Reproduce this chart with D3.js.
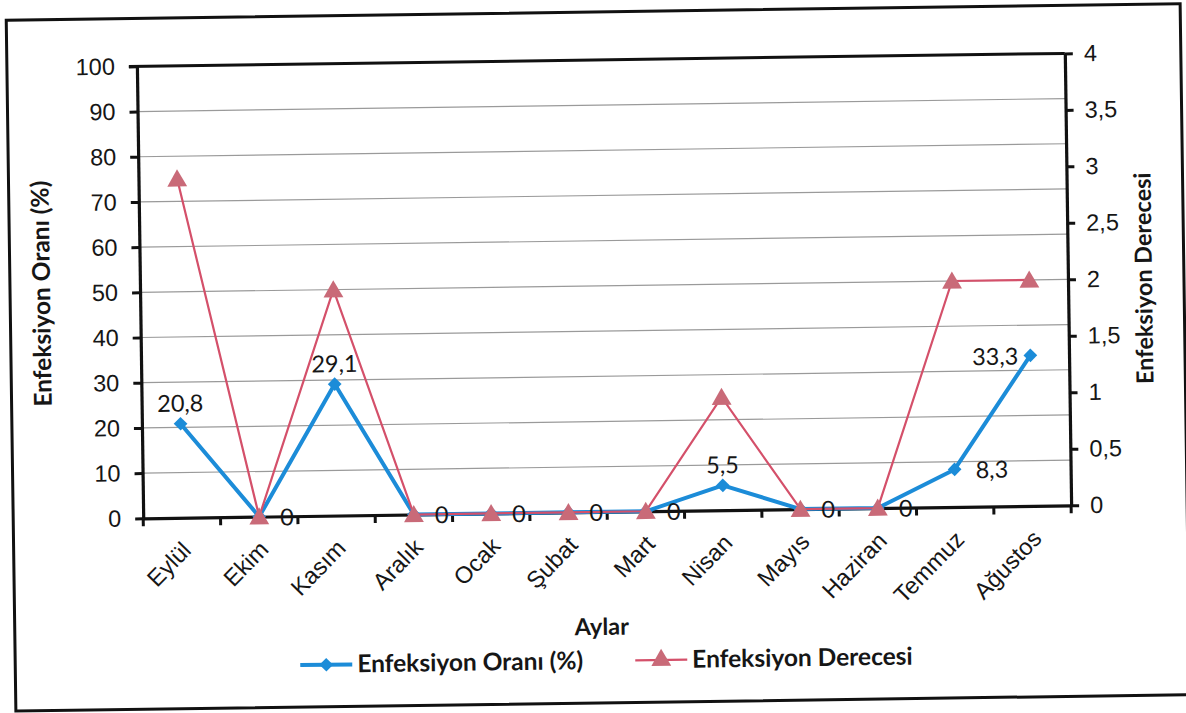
<!DOCTYPE html>
<html>
<head>
<meta charset="utf-8">
<script src="https://cdn.jsdelivr.net/npm/d3@7"></script>
<style>
  html, body { margin: 0; padding: 0; background: #fff; }
  svg { display: block; font-family: Lato, "Open Sans", sans-serif; }
</style>
</head>
<body>
<svg id="chart" width="1186" height="713"></svg>
<script>
// Monthly infection data (Eylül → Ağustos)
const months = ["Eylül", "Ekim", "Kasım", "Aralık", "Ocak", "Şubat", "Mart", "Nisan", "Mayıs", "Haziran", "Temmuz", "Ağustos"];
const infectionRate = [20.8, 0, 29.1, 0, 0, 0, 0, 5.5, 0, 0, 8.3, 33.3];   // Enfeksiyon Oranı (%)
const infectionDegree = [3, 0, 2, 0, 0, 0, 0, 1, 0, 0, 2, 2];             // Enfeksiyon Derecesi
const rateTicks = [0, 10, 20, 30, 40, 50, 60, 70, 80, 90, 100];
const degreeTicks = [0, 0.5, 1, 1.5, 2, 2.5, 3, 3.5, 4];

const BLUE = "#1c8cd8";
const RED_LINE = "#d4506a";
const RED_MARK = "#c96a78";
const INK = "#161616";
const FS = 23.5;

const svg = d3.select("#chart");
const root = svg.append("g").attr("transform", "rotate(-0.8, 593, 357)");

// outer frame
root.append("rect")
  .attr("x", 11).attr("y", 12).attr("width", 1174).attr("height", 691)
  .attr("fill", "#fff").attr("stroke", "#111").attr("stroke-width", 3);

const plot = { left: 141, right: 1069, top: 60, bottom: 512 };

const x = d3.scaleBand().domain(months).range([plot.left, plot.right]);
const yRate = d3.scaleLinear().domain([0, 100]).range([plot.bottom, plot.top]);
const yDeg = d3.scaleLinear().domain([0, 4]).range([plot.bottom, plot.top]);
const cx = m => x(m) + x.bandwidth() / 2;
const fmt = v => String(v).replace(".", ",");

// horizontal gridlines
root.append("g").selectAll("line")
  .data(rateTicks.filter(t => t > 0 && t < 100))
  .join("line")
  .attr("x1", plot.left).attr("x2", plot.right)
  .attr("y1", d => yRate(d)).attr("y2", d => yRate(d))
  .attr("stroke", "#9a9a9a").attr("stroke-width", 1.2);

// top border of the plot area
root.append("line")
  .attr("x1", plot.left - 8).attr("x2", plot.right)
  .attr("y1", plot.top).attr("y2", plot.top)
  .attr("stroke", "#111").attr("stroke-width", 3);

// left axis
const leftAxis = root.append("g")
  .attr("transform", `translate(${plot.left},0)`)
  .call(d3.axisLeft(yRate).tickValues(rateTicks).tickSize(8).tickSizeOuter(0).tickPadding(14));
// right axis
const rightAxis = root.append("g")
  .attr("transform", `translate(${plot.right},0)`)
  .call(d3.axisRight(yDeg).tickValues(degreeTicks).tickSize(8).tickSizeOuter(0).tickPadding(11).tickFormat(fmt));

[leftAxis, rightAxis].forEach(g => {
  g.select(".domain").attr("stroke", "#111").attr("stroke-width", 3.2);
  g.selectAll(".tick line").attr("stroke", "#111").attr("stroke-width", 3);
  g.selectAll(".tick text").attr("fill", INK).attr("font-size", FS);
});

// bottom axis: labels at band centres, ticks at band boundaries
const bottomAxis = root.append("g")
  .attr("transform", `translate(0,${plot.bottom})`)
  .call(d3.axisBottom(x).tickSize(0).tickSizeOuter(0));
bottomAxis.select(".domain").attr("stroke", "#111").attr("stroke-width", 3.2);
bottomAxis.selectAll(".tick text")
  .attr("font-size", FS).attr("fill", INK)
  .attr("text-anchor", "end")
  .attr("dy", null)
  .attr("transform", "translate(8,32) rotate(-45)");
bottomAxis.append("g").selectAll("line")
  .data(d3.range(months.length + 1))
  .join("line")
  .attr("x1", i => plot.left + i * x.step()).attr("x2", i => plot.left + i * x.step())
  .attr("y1", 0).attr("y2", 8)
  .attr("stroke", "#111").attr("stroke-width", 3);

// infection rate series (left axis)
const rateData = months.map((m, i) => ({ m, v: infectionRate[i], i }));
root.append("path")
  .datum(rateData)
  .attr("fill", "none").attr("stroke", BLUE).attr("stroke-width", 4).attr("stroke-linejoin", "round")
  .attr("d", d3.line().x(d => cx(d.m)).y(d => yRate(d.v)));
root.append("g").selectAll("path")
  .data(rateData)
  .join("path")
  .attr("transform", d => `translate(${cx(d.m)},${yRate(d.v)})`)
  .attr("d", d3.symbol(d3.symbolDiamond2, 120))
  .attr("fill", BLUE);

// infection degree series (right axis)
const degData = months.map((m, i) => ({ m, v: infectionDegree[i] }));
root.append("path")
  .datum(degData)
  .attr("fill", "none").attr("stroke", RED_LINE).attr("stroke-width", 2.2)
  .attr("d", d3.line().x(d => cx(d.m)).y(d => yDeg(d.v)));
root.append("g").selectAll("path")
  .data(degData)
  .join("path")
  .attr("transform", d => `translate(${cx(d.m)},${yDeg(d.v) + 2})`)
  .attr("d", d3.symbol(d3.symbolTriangle, 170))
  .attr("fill", RED_MARK);

// value labels for the infection rate
const placement = ["top", "right", "top", "right", "right", "right", "right", "top", "right", "right", "right", "left"];
root.append("g").selectAll("text")
  .data(rateData)
  .join("text")
  .attr("font-size", FS).attr("fill", INK)
  .attr("x", d => {
    const p = placement[d.i];
    return cx(d.m) + (p === "right" ? 21 : p === "left" ? -12 : 0);
  })
  .attr("y", d => {
    const p = placement[d.i];
    return yRate(d.v) + (p === "top" ? -12 : 9);
  })
  .attr("text-anchor", d => placement[d.i] === "top" ? "middle" : placement[d.i] === "left" ? "end" : "start")
  .text(d => fmt(d.v));

// axis titles
root.append("text")
  .attr("transform", `translate(51,${(plot.top + plot.bottom) / 2}) rotate(-90)`)
  .attr("text-anchor", "middle").attr("font-weight", "bold").attr("font-size", 24.5).attr("fill", INK)
  .text("Enfeksiyon Oranı (%)");
root.append("text")
  .attr("transform", `translate(1153,${(plot.top + plot.bottom) / 2}) rotate(-90)`)
  .attr("text-anchor", "middle").attr("font-weight", "bold").attr("font-size", FS).attr("fill", INK)
  .text("Enfeksiyon Derecesi");
root.append("text")
  .attr("x", 598).attr("y", 635)
  .attr("text-anchor", "middle").attr("font-weight", "bold").attr("font-size", FS).attr("fill", INK)
  .text("Aylar");

// legend
const legend = root.append("g").attr("transform", "translate(0,661)");
const items = [
  { label: "Enfeksiyon Oranı (%)", x0: 296, color: BLUE, width: 4, sym: d3.symbolDiamond2, size: 120, fill: BLUE },
  { label: "Enfeksiyon Derecesi", x0: 631, color: RED_LINE, width: 2.2, sym: d3.symbolTriangle, size: 170, fill: RED_MARK }
];
items.forEach(it => {
  legend.append("line")
    .attr("x1", it.x0).attr("x2", it.x0 + 52).attr("y1", 0).attr("y2", 0)
    .attr("stroke", it.color).attr("stroke-width", it.width);
  legend.append("path")
    .attr("transform", `translate(${it.x0 + 26},0)`)
    .attr("d", d3.symbol(it.sym, it.size)).attr("fill", it.fill);
  legend.append("text")
    .attr("x", it.x0 + 57).attr("y", 8)
    .attr("font-weight", "bold").attr("font-size", 24.5).attr("fill", INK)
    .text(it.label);
});
</script>
</body>
</html>
